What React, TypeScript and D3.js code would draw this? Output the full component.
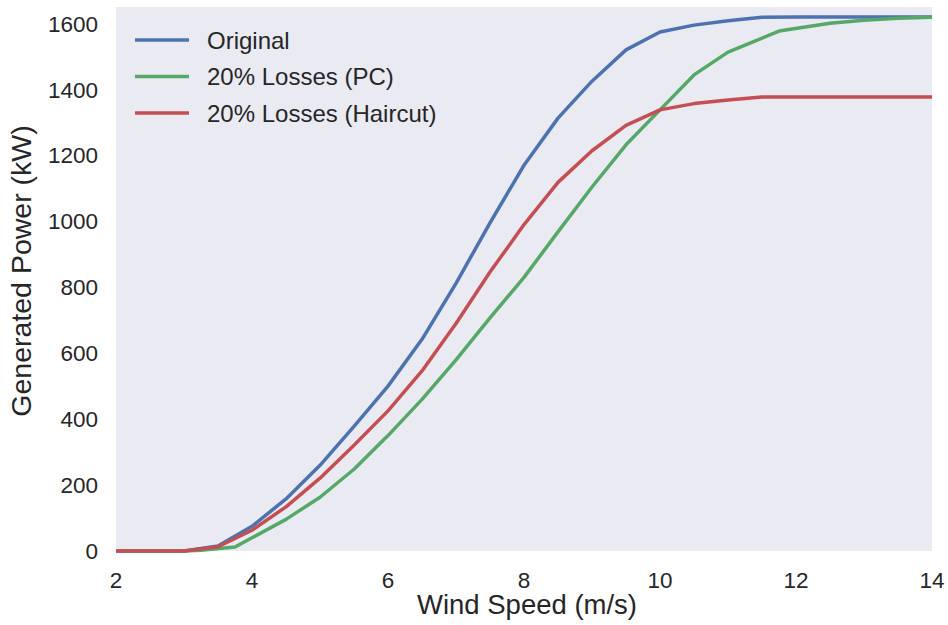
import React, { useEffect, useRef } from 'react';
import * as d3 from 'd3';

// wind speeds (m/s) and power (kW)
const speeds = [2, 2.5, 3, 3.5, 4, 4.5, 5, 5.5, 6, 6.5, 7, 7.5, 8, 8.5, 9, 9.5, 10, 10.5, 11, 11.5, 12, 12.5, 13, 13.5, 14];
const original = [0, 0, 0, 15, 75, 158, 260, 378, 500, 642, 812, 995, 1170, 1313, 1425, 1520, 1574, 1595, 1608, 1619, 1620, 1620, 1620, 1620, 1620];
const haircut = [0, 0, 0, 13, 63, 134, 221, 321, 425, 546, 690, 846, 990, 1118, 1214, 1291, 1338, 1357, 1368, 1377, 1377, 1377, 1377, 1377, 1377];

const pcSpeeds = [2, 3, 3.25, 3.75, 4, 4.5, 5, 5.5, 6, 6.5, 7, 7.5, 8, 8.5, 9, 9.5, 10, 10.5, 11, 11.75, 12.5, 13, 13.5, 14];
const pcLoss = [0, 0, 2, 12, 40, 96, 163, 248, 350, 460, 580, 707, 830, 968, 1104, 1232, 1338, 1444, 1513, 1577, 1601, 1610, 1616, 1619];

const seriesNames = ['Original', '20% Losses (PC)', '20% Losses (Haircut)'];
const seriesColors = ['#4C72B0', '#55A868', '#C44E52'];

const xTicks = [2, 4, 6, 8, 10, 12, 14];
const yTicks = [0, 200, 400, 600, 800, 1000, 1200, 1400, 1600];

const FONT = '"Liberation Sans", Arial, sans-serif';

const App = () => {
    const ref = useRef<SVGSVGElement | null>(null);

    useEffect(() => {
        if (!ref.current) return;
        const W = 948, H = 625;
        const margin = { top: 7, right: 16, bottom: 74, left: 116 };
        const width = W - margin.left - margin.right;
        const height = H - margin.top - margin.bottom;

        const root = d3.select(ref.current);
        root.selectAll('*').remove();

        const g = root.append('g').attr('transform', `translate(${margin.left},${margin.top})`);

        const x = d3.scaleLinear().domain([2, 14]).range([0, width]);
        const y = d3.scaleLinear().domain([0, 1650]).range([height, 0]);

        g.append('rect')
            .attr('width', width)
            .attr('height', height)
            .attr('fill', '#EAEAF2');

        // ticks
        g.append('g')
            .selectAll('text')
            .data(xTicks)
            .enter()
            .append('text')
            .attr('x', d => x(d))
            .attr('y', height + 37)
            .attr('text-anchor', 'middle')
            .attr('font-family', FONT)
            .attr('font-size', 22.5)
            .attr('fill', '#262626')
            .text(d => d);

        g.append('g')
            .selectAll('text')
            .data(yTicks)
            .enter()
            .append('text')
            .attr('x', -18)
            .attr('y', d => y(d))
            .attr('dy', '0.36em')
            .attr('text-anchor', 'end')
            .attr('font-family', FONT)
            .attr('font-size', 22.5)
            .attr('fill', '#262626')
            .text(d => d);

        // axis labels
        g.append('text')
            .attr('x', width / 2 + 3)
            .attr('y', height + 63)
            .attr('text-anchor', 'middle')
            .attr('font-family', FONT)
            .attr('font-size', 27.5)
            .attr('fill', '#262626')
            .text('Wind Speed (m/s)');

        g.append('text')
            .attr('transform', `translate(${-85},${height / 2 - 8}) rotate(-90)`)
            .attr('text-anchor', 'middle')
            .attr('font-family', FONT)
            .attr('font-size', 28.5)
            .attr('fill', '#262626')
            .text('Generated Power (kW)');

        const line = d3.line<[number, number]>()
            .x(d => x(d[0]))
            .y(d => y(d[1]));

        const series: [number, number][][] = [
            speeds.map((s, i) => [s, original[i]]),
            pcSpeeds.map((s, i) => [s, pcLoss[i]]),
            speeds.map((s, i) => [s, haircut[i]]),
        ];

        g.selectAll('path.series')
            .data(series)
            .enter()
            .append('path')
            .attr('class', 'series')
            .attr('d', d => line(d))
            .attr('fill', 'none')
            .attr('stroke', (_, i) => seriesColors[i])
            .attr('stroke-width', 3.5)
            .attr('stroke-linejoin', 'round')
            .attr('stroke-linecap', 'butt');

        // legend
        const legend = g.append('g').attr('transform', 'translate(19,33)');
        seriesNames.forEach((name, i) => {
            const row = legend.append('g').attr('transform', `translate(0,${i * 36.5})`);
            row.append('line')
                .attr('x1', 0)
                .attr('x2', 54)
                .attr('stroke', seriesColors[i])
                .attr('stroke-width', 3.5);
            row.append('text')
                .attr('x', 72)
                .attr('dy', '0.36em')
                .attr('font-family', FONT)
                .attr('font-size', 24)
                .attr('fill', '#262626')
                .text(name);
        });
    }, []);

    return (
        <svg
            ref={ref}
            width={948}
            height={625}
            style={{ position: 'absolute', left: 0, top: 0, background: '#fff' }}
        />
    );
};

export default App;
